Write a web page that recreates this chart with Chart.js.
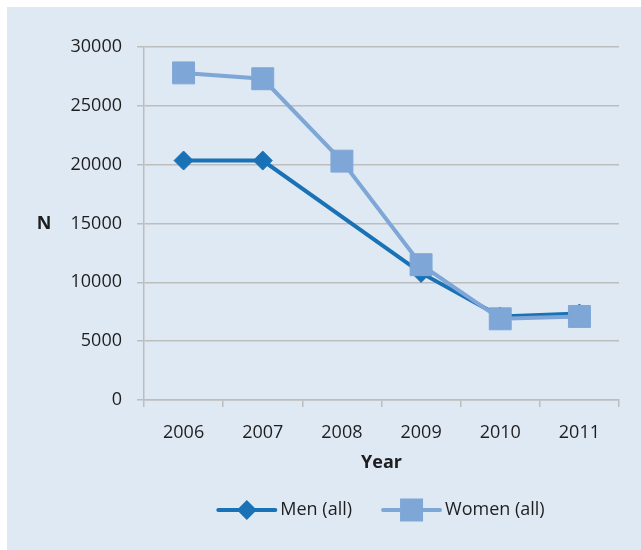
<!DOCTYPE html>
<html>
<head>
<meta charset="utf-8">
<script src="https://cdn.jsdelivr.net/npm/chart.js@4/dist/chart.umd.min.js"></script>
<style>
  html, body { margin: 0; padding: 0; background: #ffffff; }
  #wrap { position: relative; width: 641px; height: 550px; }
</style>
</head>
<body>
<div id="wrap"><canvas id="c" width="641" height="550"></canvas></div>
<script>
const categories = ['2006', '2007', '2008', '2009', '2010', '2011'];
const menValues = [20350, 20350, null, 10800, 7100, 7350];
const womenValues = [27800, 27300, 20300, 11500, 6900, 7100];
const yTicks = [0, 5000, 10000, 15000, 20000, 25000, 30000];
const seriesLabels = ['Men (all)', 'Women (all)'];
const yAxisLabel = 'N';
const xAxisLabel = 'Year';

const MEN_COLOR = '#1a72b6';
const WOMEN_COLOR = '#7ea6d6';
const GRID = '#bdbdbd';
const TEXT = '#1e1e1e';
const FONT = "'Open Sans', 'Noto Sans', sans-serif";

const bgPlugin = {
  id: 'bg',
  beforeDraw(chart) {
    const ctx = chart.ctx;
    ctx.save();
    ctx.fillStyle = '#dfe9f4';
    ctx.fillRect(7, 7, chart.width - 7, chart.height - 7);
    ctx.restore();
  }
};

const extrasPlugin = {
  id: 'extras',
  afterDraw(chart) {
    const ctx = chart.ctx;
    const area = chart.chartArea;
    ctx.save();
    // horizontal y-axis label
    ctx.font = 'bold 18px ' + FONT;
    ctx.fillStyle = TEXT;
    ctx.textAlign = 'center';
    ctx.textBaseline = 'middle';
    ctx.fillText(yAxisLabel, 44, (area.top + area.bottom) / 2);

    // legend with line + marker
    ctx.font = '18px ' + FONT;
    const lineLen = 57, gap = 5, itemGap = 31;
    const ds = chart.data.datasets;
    const widths = ds.map(d => ctx.measureText(d.label).width);
    let total = 0;
    ds.forEach((d, i) => { total += lineLen + gap + widths[i]; if (i < ds.length - 1) total += itemGap; });
    let x = (area.left + area.right) / 2 - total / 2;
    const y = 510;
    ds.forEach((d, i) => {
      ctx.strokeStyle = d.borderColor;
      ctx.lineWidth = 4;
      ctx.lineCap = 'round';
      ctx.beginPath();
      ctx.moveTo(x, y);
      ctx.lineTo(x + lineLen, y);
      ctx.stroke();
      const cx = x + lineLen / 2;
      ctx.fillStyle = d.pointBackgroundColor;
      ctx.beginPath();
      if (d.pointStyle === 'rectRot') {
        const r = 10;
        ctx.moveTo(cx - r, y); ctx.lineTo(cx, y - r); ctx.lineTo(cx + r, y); ctx.lineTo(cx, y + r);
        ctx.closePath();
      } else {
        const s = 11.5;
        ctx.rect(cx - s, y - s, 2 * s, 2 * s);
      }
      ctx.fill();
      ctx.fillStyle = TEXT;
      ctx.textAlign = 'left';
      ctx.textBaseline = 'middle';
      ctx.fillText(d.label, x + lineLen + gap, y);
      x += lineLen + gap + widths[i] + itemGap;
    });
    ctx.restore();
  }
};

new Chart(document.getElementById('c'), {
  type: 'line',
  data: {
    labels: categories,
    datasets: [
      {
        label: seriesLabels[0],
        data: menValues,
        borderColor: MEN_COLOR,
        backgroundColor: MEN_COLOR,
        pointBackgroundColor: MEN_COLOR,
        pointBorderColor: MEN_COLOR,
        borderWidth: 4,
        pointStyle: 'rectRot',
        pointRadius: 9.5,
        pointBorderWidth: 1,
        pointHoverRadius: 9.5,
        spanGaps: true,
        tension: 0,
        order: 1
      },
      {
        label: seriesLabels[1],
        data: womenValues,
        borderColor: WOMEN_COLOR,
        backgroundColor: WOMEN_COLOR,
        pointBackgroundColor: WOMEN_COLOR,
        pointBorderColor: WOMEN_COLOR,
        borderWidth: 4,
        pointStyle: 'rect',
        pointRadius: 15.5,
        pointBorderWidth: 1,
        pointHoverRadius: 15.5,
        tension: 0,
        order: 0
      }
    ]
  },
  options: {
    responsive: false,
    animation: false,
    events: [],
    layout: { padding: { left: 0, top: 47, right: 22, bottom: 0 } },
    plugins: {
      legend: { display: false },
      tooltip: { enabled: false }
    },
    scales: {
      x: {
        type: 'category',
        offset: true,
        afterFit(scale) { scale.height = 150; },
        grid: {
          display: true,
          drawOnChartArea: false,
          offset: true,
          tickLength: 7,
          color: GRID,
          lineWidth: 1.5
        },
        border: { display: true, color: GRID, width: 1.5 },
        ticks: {
          font: { family: FONT, size: 18 },
          color: TEXT,
          padding: 15,
          maxRotation: 0,
          autoSkip: false
        },
        title: {
          display: true,
          text: xAxisLabel,
          font: { family: FONT, size: 18, weight: 'bold' },
          color: TEXT,
          padding: { top: 0, bottom: 76 }
        }
      },
      y: {
        min: 0,
        max: 30000,
        afterFit(scale) { scale.width = 144; },
        afterBuildTicks(scale) { scale.ticks = yTicks.map(v => ({ value: v })); },
        grid: {
          display: true,
          drawOnChartArea: true,
          tickLength: 7,
          color: GRID,
          lineWidth: 1.5
        },
        border: { display: true, color: GRID, width: 1.5 },
        ticks: {
          font: { family: FONT, size: 18 },
          color: TEXT,
          padding: 15,
          callback: v => String(v)
        }
      }
    }
  },
  plugins: [bgPlugin, extrasPlugin]
});
</script>
</body>
</html>
